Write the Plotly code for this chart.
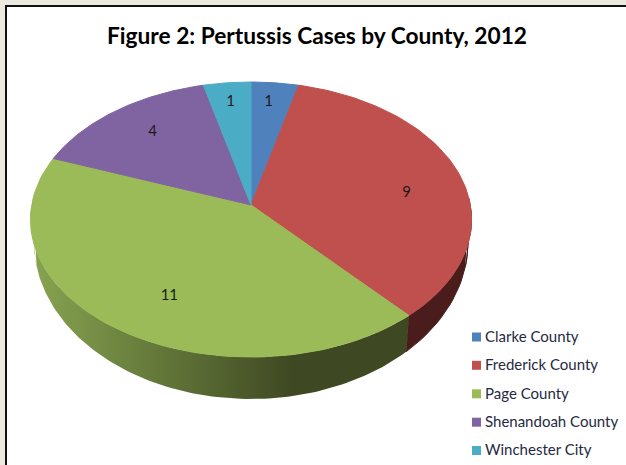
import numpy as np
import plotly.graph_objects as go

categories = ["Clarke County", "Frederick County", "Page County", "Shenandoah County", "Winchester City"]
cases = [1, 9, 11, 4, 1]
colors = ["#4f81bd", "#c0504d", "#9bbb59", "#8064a2", "#4bacc6"]
title_text = "Figure 2: Pertussis Cases by County, 2012"

W, H = 626, 465
CX, CY, A, B, K = 251.0, 205.0, 219.3, 136.0, 0.1055     # top face projection
CY2, A2, B2 = 242.0, 217.0, 157.0                         # lower rim ellipse


def rim(theta, f=1.0):
    u, v = f * np.sin(theta), f * np.cos(theta)
    w = 1 + K * v
    return CX + A * u / w, CY - B * v / w


def lower_rim(theta):
    u, v = np.sin(theta), np.cos(theta)
    s = np.clip(u / (1 + K * v) / 1.0056, -1, 1)
    return CX + A2 * s, CY2 + B2 * np.sqrt(1 - s ** 2)


vals = np.array(cases, dtype=float)
edges = np.concatenate([[0], np.cumsum(vals)]) / vals.sum() * 2 * np.pi

fig = go.Figure()


def poly(xs, ys, color, gradient=None):
    kw = dict(fillgradient=gradient) if gradient else dict(fillcolor=color)
    fig.add_trace(go.Scatter(x=list(xs), y=list(ys), mode="lines", fill="toself",
                             line=dict(color=color, width=1 if not gradient else 0),
                             hoverinfo="skip", showlegend=False, **kw))


# side wall: red part
t1 = edges[2]
th = np.linspace(np.pi / 2 - 0.05, t1, 30)
x1, y1 = rim(th)
x2, y2 = lower_rim(th[::-1])
poly(np.r_[x1, x2], np.r_[y1, y2], "#4b1c1c")

# side wall: green part with a horizontal shade
th = np.linspace(t1, 3 * np.pi / 2 + 0.05, 120)
x1, y1 = rim(th)
x2, y2 = lower_rim(th[::-1])
poly(np.r_[x1, x2], np.r_[y1, y2], "#3e4822",
     gradient=dict(type="horizontal", start=35, stop=295,
                   colorscale=[[0, "#86a350"], [1, "#3e4822"]]))

# top face
for i, c in enumerate(colors):
    th = np.linspace(edges[i], edges[i + 1], 80)
    xs, ys = rim(th)
    poly(np.r_[CX, xs, CX], np.r_[CY, ys, CY], c)

# value labels
nudges = [(-2, -3), (1, 12), (0, 18), (11, 4), (-1, -3)]
fracs = [0.8, 0.74, 0.62, 0.8, 0.8]
mid = (edges[:-1] + edges[1:]) / 2
lx, ly = [], []
for m, f, (dx, dy) in zip(mid, fracs, nudges):
    px, py = rim(m, f)
    lx.append(px + dx)
    ly.append(py + dy)
fig.add_trace(go.Scatter(x=lx, y=ly, mode="text", text=[str(v) for v in cases],
                         textposition="middle center",
                         textfont=dict(family="Lato", size=15, color="#1a1a1a"),
                         hoverinfo="skip", showlegend=False))

# legend
ly0 = [337, 365.3, 393.8, 422.2, 450.5]
fig.add_trace(go.Scatter(x=[476.5] * 5, y=ly0, mode="markers",
                         marker=dict(symbol="square", size=9, color=colors, line=dict(width=0)),
                         hoverinfo="skip", showlegend=False))
fig.add_trace(go.Scatter(x=[485] * 5, y=[v + 1 for v in ly0], mode="text", text=categories,
                         textposition="middle right",
                         textfont=dict(family="Lato", size=15, color="#1f2a44"),
                         hoverinfo="skip", showlegend=False))

fig.add_shape(type="rect", x0=6, y0=6, x1=W + 10, y1=H + 10, line=dict(color="#111111", width=2),
              fillcolor="white", layer="below")

fig.update_layout(
    width=W, height=H, margin=dict(l=0, r=0, t=0, b=0), autosize=False,
    paper_bgcolor="#ece9df", plot_bgcolor="#ece9df",
    xaxis=dict(range=[0, W], visible=False, fixedrange=True),
    yaxis=dict(range=[H, 0], visible=False, fixedrange=True),
    title=dict(text="<b>%s</b>" % title_text, x=317 / W, xanchor="center", y=1 - 36 / H, yanchor="middle",
               font=dict(family="Lato", size=22.7, color="#000000")),
)
fig.write_html("out.html", config=dict(displayModeBar=False),
               post_script="document.body.style.margin='0';document.body.style.overflow='hidden';")
